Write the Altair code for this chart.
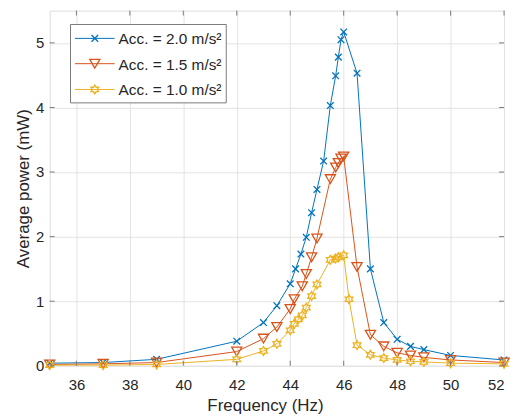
import math
import altair as alt
import pandas as pd

# ---- data ----
blue_f = [35, 37, 39, 42, 43, 43.5, 44, 44.2, 44.4, 44.6, 44.8, 45, 45.25, 45.5, 45.7, 45.8, 45.9, 46, 46.5, 47, 47.5, 48, 48.5, 49, 50, 52]
blue_p = [0.04, 0.05, 0.10, 0.38, 0.67, 0.93, 1.27, 1.50, 1.73, 1.99, 2.37, 2.73, 3.17, 4.03, 4.49, 4.78, 5.05, 5.17, 4.53, 1.50, 0.67, 0.41, 0.30, 0.25, 0.16, 0.09]

red_f = [35, 37, 39, 42, 43, 43.5, 44, 44.15, 44.45, 44.6, 44.8, 45, 45.5, 45.7, 45.8, 45.9, 46, 46.5, 47, 47.5, 48, 48.5, 49, 50, 52]
red_p = [0.02, 0.03, 0.05, 0.22, 0.42, 0.60, 0.88, 1.03, 1.23, 1.42, 1.68, 1.97, 2.89, 3.07, 3.14, 3.21, 3.24, 1.53, 0.48, 0.30, 0.20, 0.16, 0.13, 0.09, 0.05]

yellow_f = [35, 37, 39, 42, 43, 43.5, 44, 44.15, 44.3, 44.45, 44.6, 44.8, 45, 45.5, 45.7, 45.8, 46, 46.2, 46.5, 47, 47.5, 48, 48.5, 49, 50, 52]
yellow_p = [0.01, 0.01, 0.02, 0.10, 0.23, 0.34, 0.55, 0.65, 0.72, 0.78, 0.90, 1.08, 1.26, 1.64, 1.66, 1.68, 1.71, 1.03, 0.32, 0.17, 0.12, 0.09, 0.07, 0.06, 0.04, 0.03]

labels = ["Acc. = 2.0 m/s²", "Acc. = 1.5 m/s²", "Acc. = 1.0 m/s²"]
x_ticks = [36, 38, 40, 42, 44, 46, 48, 50, 52]
y_ticks = [0, 1, 2, 3, 4, 5]

# ---- styling ----
W, H = 458, 358
FONT = "Liberation Sans"
TXT = "#262626"
FRAME = "#7a7a7a"
GRID = "#e3e3e3"
colors = ["#0072BD", "#D95319", "#EDB120"]

x_path = "M-1,-1L1,1M-1,1L1,-1"
pts = []
for k in range(12):
    a = math.radians(90 + 30 * k)
    r = 1 if k % 2 == 0 else 1 / math.sqrt(3)
    pts.append((r * math.cos(a), -r * math.sin(a)))
hex_path = "M" + "L".join(f"{px:.3f},{py:.3f}" for px, py in pts) + "Z"
shapes = [x_path, "triangle-down", hex_path]
sizes = [45, 105, 80]

xs = alt.Scale(domain=[35, 52], nice=False, zero=False)
ys = alt.Scale(domain=[0, 5.5], nice=False)
xaxis = alt.Axis(values=x_ticks, grid=True, gridColor=GRID, ticks=False, tickSize=0,
                 domain=False, labelFontSize=15, labelColor=TXT, labelFont=FONT,
                 labelPadding=24, labelBaseline="alphabetic",
                 title="Frequency (Hz)", titleFont=FONT, titleFontSize=17, titleColor=TXT,
                 titleFontWeight="normal", titleX=217, titleY=45, titleBaseline="alphabetic")
yaxis = alt.Axis(values=y_ticks, grid=True, gridColor=GRID, ticks=False, tickSize=0,
                 domain=False, labelFontSize=15, labelColor=TXT, labelFont=FONT,
                 labelPadding=6, labelBaseline="middle",
                 title="Average power (mW)", titleFont=FONT, titleFontSize=17, titleColor=TXT,
                 titleFontWeight="normal", titleX=-21, titleY=H / 2, titleBaseline="alphabetic")
X = alt.X("f:Q", scale=xs, axis=xaxis)
Y = alt.Y("p:Q", scale=ys, axis=yaxis)

layers = []
series = [(blue_f, blue_p), (red_f, red_p), (yellow_f, yellow_p)]
for i, (fs, ps) in enumerate(series):
    df = pd.DataFrame({"f": fs, "p": ps})
    base = alt.Chart(df)
    layers.append(base.mark_line(color=colors[i], strokeWidth=1).encode(x=X, y=Y))
    layers.append(base.mark_point(shape=shapes[i], size=sizes[i], filled=False,
                                  color=colors[i], strokeWidth=1.3, opacity=1).encode(x=X, y=Y))

# inward ticks on all four sides
xt = alt.Chart(pd.DataFrame({"f": x_ticks}))
yt = alt.Chart(pd.DataFrame({"p": y_ticks}))
layers.append(xt.mark_rule(color=FRAME, strokeWidth=1).encode(x=X, y=alt.value(H), y2=alt.value(H - 5)))
layers.append(xt.mark_rule(color=FRAME, strokeWidth=1).encode(x=X, y=alt.value(0), y2=alt.value(5)))
layers.append(yt.mark_rule(color=FRAME, strokeWidth=1).encode(y=Y, x=alt.value(0), x2=alt.value(5)))
layers.append(yt.mark_rule(color=FRAME, strokeWidth=1).encode(y=Y, x=alt.value(W), x2=alt.value(W - 5)))

# legend box
one = alt.Chart(pd.DataFrame({"a": [0]}))
layers.append(one.mark_rect(fill="white", stroke=FRAME, strokeWidth=1).encode(
    x=alt.value(21), x2=alt.value(178), y=alt.value(14), y2=alt.value(93)))
row_y = [28, 53.5, 79.5]
for i in range(3):
    layers.append(one.mark_rule(color=colors[i], strokeWidth=1).encode(
        x=alt.value(25.5), x2=alt.value(65.5), y=alt.value(row_y[i])))
    layers.append(one.mark_point(shape=shapes[i], size=sizes[i], filled=False, color=colors[i],
                                 strokeWidth=1.3, opacity=1).encode(
        x=alt.value(45.5), y=alt.value(row_y[i])))
    layers.append(one.mark_text(align="left", baseline="middle", font=FONT, fontSize=15.5,
                                color=TXT).encode(
        x=alt.value(69.5), y=alt.value(row_y[i] + 1), text=alt.value(labels[i])))

chart = alt.layer(*layers).properties(
    width=W, height=H,
    autosize=alt.AutoSizeParams(type="none"),
    padding={"left": 42, "top": 1, "right": 6, "bottom": 48},
).configure_view(stroke=FRAME, strokeWidth=1).configure(background="white")

chart.save("out.html", embed_options={"renderer": "svg", "actions": False})
